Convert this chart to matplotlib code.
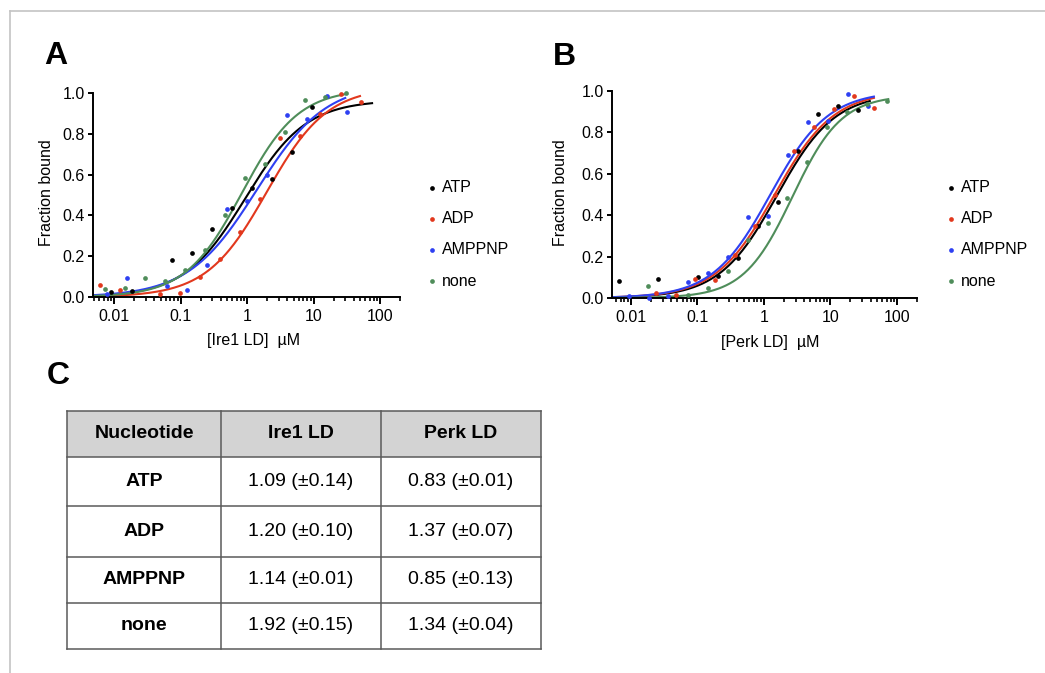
import numpy as np
import matplotlib
matplotlib.use('Agg')
import matplotlib.pyplot as plt
from matplotlib.lines import Line2D
from matplotlib.patches import Rectangle

plt.rcParams['font.family'] = ['Liberation Sans', 'DejaVu Sans']

W, H = 1045, 673

series = ['ATP', 'ADP', 'AMPPNP', 'none']
colors = ['#000000', '#e2381d', '#2e40f2', '#4f8d5a']

# ---- Panel A: Ire1 LD titration (uM, fraction bound)
ire1_atp_x = [0.0091, 0.0184, 0.0736, 0.148, 0.296, 0.592, 1.19, 2.38, 4.75, 9.53]
ire1_atp_y = [0.025, 0.031, 0.179, 0.216, 0.331, 0.438, 0.534, 0.580, 0.711, 0.930]
ire1_adp_x = [0.0061, 0.0122, 0.0491, 0.0984, 0.197, 0.395, 0.791, 1.58, 3.18, 6.35, 12.7, 25.5, 51.2]
ire1_adp_y = [0.061, 0.036, 0.015, 0.020, 0.098, 0.187, 0.321, 0.479, 0.777, 0.790, 0.895, 0.993, 0.954]
ire1_amppnp_x = [0.00778, 0.0156, 0.0625, 0.125, 0.251, 0.502, 1.0, 2.02, 4.04, 8.09, 16.2, 32.4]
ire1_amppnp_y = [0.015, 0.092, 0.056, 0.034, 0.157, 0.430, 0.470, 0.600, 0.893, 0.875, 0.984, 0.908]
ire1_none_x = [0.00726, 0.0146, 0.0292, 0.0583, 0.117, 0.234, 0.469, 0.94, 1.88, 3.78, 7.55, 15.1, 30.3]
ire1_none_y = [0.039, 0.044, 0.093, 0.080, 0.134, 0.230, 0.400, 0.582, 0.654, 0.807, 0.967, 0.979, 1.0]

# fitted curves (Kd, Hill slope, plateau, last x)
ire1_fit_kd = [0.935, 1.98, 1.40, 0.836]
ire1_fit_hill = [0.945, 0.956, 0.84, 1.02]
ire1_fit_top = [0.965, 1.03, 1.05, 1.02]
ire1_fit_xmax = [76, 50, 30, 32]

# ---- Panel B: Perk LD titration
perk_atp_x = [0.00655, 0.026, 0.103, 0.206, 0.409, 0.817, 1.63, 3.24, 6.45, 12.9, 25.6]
perk_atp_y = [0.083, 0.091, 0.101, 0.104, 0.194, 0.350, 0.465, 0.711, 0.888, 0.928, 0.907]
perk_adp_x = [0.0237, 0.0472, 0.0918, 0.183, 0.364, 0.726, 1.45, 2.88, 5.74, 11.4, 22.8, 45.4]
perk_adp_y = [0.026, 0.013, 0.094, 0.089, 0.210, 0.348, 0.500, 0.711, 0.827, 0.913, 0.977, 0.916]
perk_amppnp_x = [0.00925, 0.0184, 0.0366, 0.0731, 0.146, 0.29, 0.578, 1.15, 2.3, 4.57, 9.12, 18.2, 36.1]
perk_amppnp_y = [0.011, 0.0, 0.008, 0.077, 0.120, 0.200, 0.393, 0.396, 0.690, 0.851, 0.856, 0.984, 0.928]
perk_none_x = [0.0182, 0.0721, 0.144, 0.286, 0.57, 1.14, 2.26, 4.51, 8.99, 17.9, 35.6, 71.1]
perk_none_y = [0.056, 0.013, 0.048, 0.131, 0.282, 0.363, 0.485, 0.658, 0.827, 0.900, 0.937, 0.953]

perk_fit_kd = [1.57, 1.45, 1.25, 2.69]
perk_fit_hill = [1.0, 0.98, 1.0, 1.18]
perk_fit_top = [0.99, 1.0, 1.0, 0.98]
perk_fit_xmax = [39, 45, 45, 74]

# ---- Panel C table
table_header = ['Nucleotide', 'Ire1 LD', 'Perk LD']
table_nucleotide = ['ATP', 'ADP', 'AMPPNP', 'none']
table_ire1 = ['1.09 (\u00b10.14)', '1.20 (\u00b10.10)', '1.14 (\u00b10.01)', '1.92 (\u00b10.15)']
table_perk = ['0.83 (\u00b10.01)', '1.37 (\u00b10.07)', '0.85 (\u00b10.13)', '1.34 (\u00b10.04)']

FS = 11.5

fig = plt.figure(figsize=(W / 100, H / 100), dpi=100)


def px_axes(l, t, r, b):
    return fig.add_axes([l / W, 1 - b / H, (r - l) / W, (b - t) / H])


def binding_panel(ax, xs, ys, kd, hill, top, xmax, xmin, xlim, xlabel, label_x, label_y):
    for i in range(len(series)):
        xc = np.logspace(np.log10(xmin), np.log10(xmax[i]), 300)
        yc = top[i] * xc ** hill[i] / (kd[i] ** hill[i] + xc ** hill[i])
        ax.plot(xc, yc, color=colors[i], lw=1.5, clip_on=False, zorder=2)
        ax.plot(xs[i], ys[i], 'o', color=colors[i], ms=3.4, mew=0, clip_on=False, zorder=3)
    ax.set_xscale('log')
    ax.set_xlim(*xlim)
    ax.set_ylim(0, 1.0)
    ax.spines['top'].set_visible(False)
    ax.spines['right'].set_visible(False)
    for s in ['left', 'bottom']:
        ax.spines[s].set_linewidth(1.4)
    ax.set_yticks([0, 0.2, 0.4, 0.6, 0.8, 1.0])
    ax.set_yticklabels(['0.0', '0.2', '0.4', '0.6', '0.8', '1.0'])
    ax.set_xticks([0.01, 0.1, 1, 10, 100])
    ax.set_xticklabels(['0.01', '0.1', '1', '10', '100'])
    ax.xaxis.set_minor_locator(matplotlib.ticker.LogLocator(base=10, subs=np.arange(2, 10), numticks=20))
    ax.xaxis.set_minor_formatter(matplotlib.ticker.NullFormatter())
    ax.tick_params(axis='y', which='major', length=3.6, width=1.4, pad=2.5, labelsize=FS)
    ax.tick_params(axis='x', which='major', length=4.8, width=1.4, pad=4, labelsize=FS)
    ax.tick_params(axis='x', which='minor', length=2.8, width=1.2)
    ax.text(label_x, 0.51, 'Fraction bound', transform=ax.transAxes, rotation=90,
            ha='center', va='center', fontsize=FS)
    ax.text(label_y, -0.215, xlabel, transform=ax.transAxes, ha='center', va='center', fontsize=FS)


axA = px_axes(93, 93, 400, 297)
binding_panel(axA,
              [ire1_atp_x, ire1_adp_x, ire1_amppnp_x, ire1_none_x],
              [ire1_atp_y, ire1_adp_y, ire1_amppnp_y, ire1_none_y],
              ire1_fit_kd, ire1_fit_hill, ire1_fit_top, ire1_fit_xmax,
              0.0051, (0.0048, 200), '[Ire1 LD]  \u00b5M', -0.153, 0.522)

axB = px_axes(612, 91, 917, 298)
binding_panel(axB,
              [perk_atp_x, perk_adp_x, perk_amppnp_x, perk_none_x],
              [perk_atp_y, perk_adp_y, perk_amppnp_y, perk_none_y],
              perk_fit_kd, perk_fit_hill, perk_fit_top, perk_fit_xmax,
              0.0053, (0.0052, 200), '[Perk LD]  \u00b5M', -0.170, 0.518)

# legends, drawn by hand
legend_rows = [188, 219, 250, 281]
for mx, tx in [(432, 441.7), (950.7, 960.7)]:
    for i, name in enumerate(series):
        fig.add_artist(Line2D([mx / W], [1 - legend_rows[i] / H], marker='o', ms=3.4, mew=0,
                              color=colors[i], transform=fig.transFigure))
        fig.text(tx / W, 1 - legend_rows[i] / H, name, ha='left', va='center', fontsize=FS)

# panel letters
fig.text(44.3 / W, 1 - 64.3 / H, 'A', fontsize=23, fontweight='bold', va='baseline')
fig.text(552.7 / W, 1 - 65 / H, 'B', fontsize=23, fontweight='bold', va='baseline')
fig.text(47 / W, 1 - 384 / H, 'C', fontsize=23, fontweight='bold', va='baseline')

# table
col_edges = [67.3, 220.7, 380.7, 540.7]
row_edges = [410.7, 457.3, 505.7, 556.7, 602.7, 649]
tab = fig.add_axes([0, 0, 1, 1], zorder=-1)
tab.set_xlim(0, W)
tab.set_ylim(H, 0)
tab.axis('off')
tab.add_patch(Rectangle((col_edges[0], row_edges[0]), col_edges[-1] - col_edges[0],
                        row_edges[1] - row_edges[0], facecolor='#d3d3d3', edgecolor='none'))
for yv in row_edges:
    tab.plot([col_edges[0], col_edges[-1]], [yv, yv], color='#5a5a5a', lw=1.1, solid_capstyle='projecting')
for xv in col_edges:
    tab.plot([xv, xv], [row_edges[0], row_edges[-1]], color='#5a5a5a', lw=1.1, solid_capstyle='projecting')

rows = [table_header] + [[table_nucleotide[i], table_ire1[i], table_perk[i]] for i in range(4)]
for r, row in enumerate(rows):
    yc = (row_edges[r] + row_edges[r + 1]) / 2
    for c, txt in enumerate(row):
        xc = (col_edges[c] + col_edges[c + 1]) / 2
        bold = (r == 0) or (c == 0)
        tab.text(xc, yc, txt, ha='center', va='center', fontsize=14,
                 fontweight='bold' if bold else 'normal')

# thin frame round the figure (top and left only)
tab.plot([10, W], [11, 11], color='#c4c4c4', lw=1.2)
tab.plot([10, 10], [11, H], color='#c4c4c4', lw=1.2)

fig.savefig('out.png', dpi=100)
